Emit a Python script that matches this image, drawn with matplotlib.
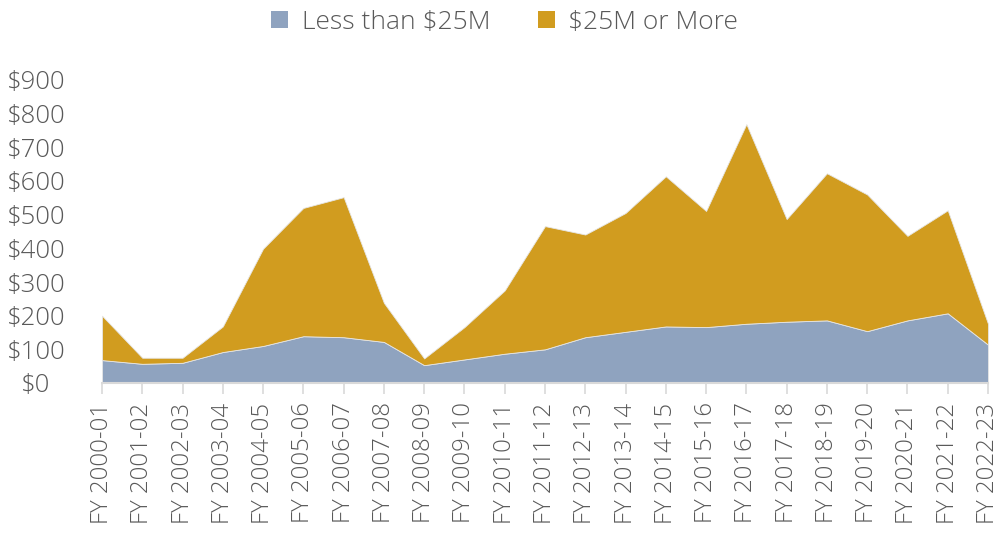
import matplotlib
matplotlib.use("Agg")
import matplotlib.pyplot as plt
from matplotlib.patches import Patch
import numpy as np

categories = ["FY 2000-01", "FY 2001-02", "FY 2002-03", "FY 2003-04", "FY 2004-05",
              "FY 2005-06", "FY 2006-07", "FY 2007-08", "FY 2008-09", "FY 2009-10",
              "FY 2010-11", "FY 2011-12", "FY 2012-13", "FY 2013-14", "FY 2014-15",
              "FY 2015-16", "FY 2016-17", "FY 2017-18", "FY 2018-19", "FY 2019-20",
              "FY 2020-21", "FY 2021-22", "FY 2022-23"]
less_than_25m = [68, 57, 60, 92, 110, 139, 136, 122, 53, 70, 87, 100, 136, 152, 168,
                 166, 176, 182, 186, 154, 186, 207, 114]
total = [200, 75, 75, 168, 399, 520, 552, 238, 73, 166, 275, 466, 441, 505, 614,
         511, 769, 487, 623, 560, 437, 513, 176]
more_25m = [t - l for t, l in zip(total, less_than_25m)]
y_ticks = [0, 100, 200, 300, 400, 500, 600, 700, 800, 900]
legend_labels = ["Less than $25M", "$25M or More"]

c_low = "#8FA3BF"
c_high = "#D19C1F"
txt = "#595959"

plt.rcParams['font.family'] = ['Open Sans', 'DejaVu Sans']
plt.rcParams['font.weight'] = 300

fig = plt.figure(figsize=(10.01, 5.34), dpi=100)
ax = fig.add_axes([102 / 1001, (534 - 383) / 534, (988 - 102) / 1001, (383 - 80) / 534])

x = np.arange(len(categories))
ax.stackplot(x, less_than_25m, more_25m, colors=[c_low, c_high],
             edgecolor="#E6E6E6", linewidth=0.6)

ax.set_xlim(0, len(categories) - 1)
ax.set_ylim(0, 900)
ax.set_yticks(y_ticks)
ax.set_yticklabels([f"${v}" for v in y_ticks], fontsize=18.5, color=txt,
                   ha="center", fontweight=300)
ax.set_xticks(x)
ax.set_xticklabels(categories, rotation=90, fontsize=17.3, color=txt, fontweight=300)

for s in ["top", "right", "left"]:
    ax.spines[s].set_visible(False)
ax.spines["bottom"].set_color("#D9D9D9")
ax.spines["bottom"].set_linewidth(1.5)
ax.tick_params(axis="y", length=0, pad=(102 - 36) * 0.72)
ax.tick_params(axis="x", length=8, width=1.2, color="#D9D9D9", pad=6)

handles = [Patch(facecolor=c_low), Patch(facecolor=c_high)]
fig.legend(handles, legend_labels, loc="center", bbox_to_anchor=(0.504, 0.958),
           ncol=2, frameon=False, labelcolor=txt,
           prop={"weight": 300, "size": 19},
           handlelength=0.65, handleheight=0.65, handletextpad=0.5, columnspacing=1.8)

fig.savefig("out.png", dpi=100)
